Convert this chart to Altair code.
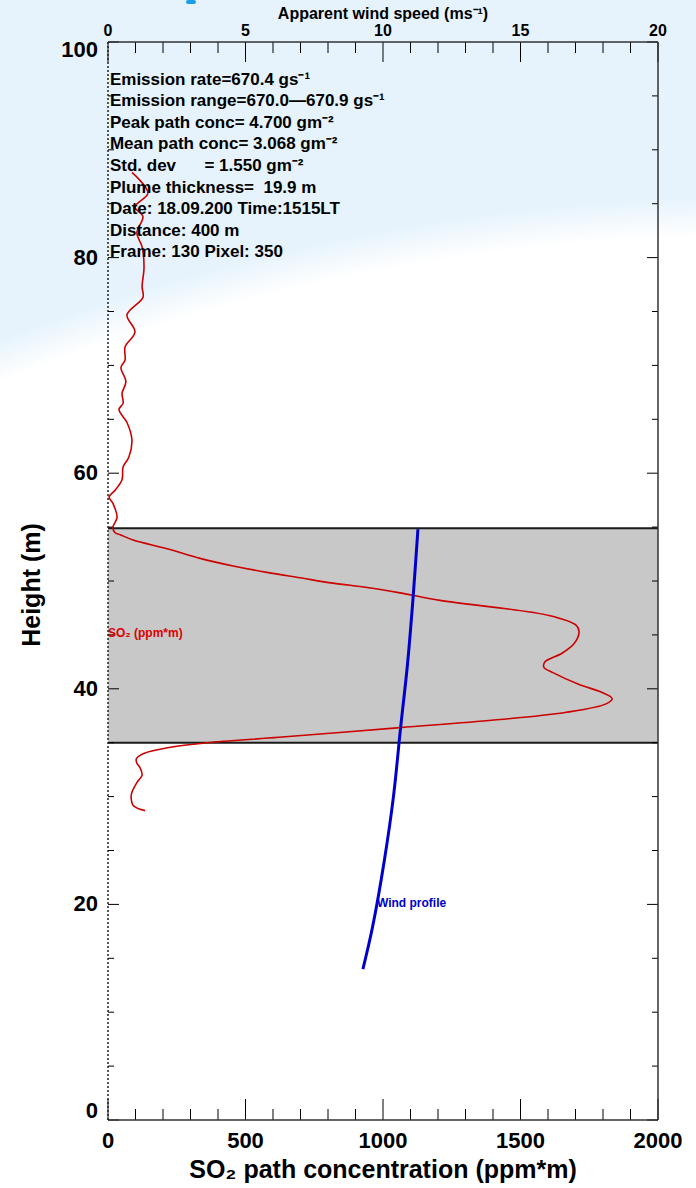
import altair as alt
import pandas as pd

# ---------------- data ----------------
so2_height = [87.9, 86.0, 84.7, 83.8, 82.3, 81.0, 79.1, 77.3, 76.3, 74.7,
              73.1, 71.7, 70.5, 69.8, 68.5, 67.4, 66.5, 65.9, 64.7, 63.1,
              61.5, 60.6, 59.4, 58.4, 57.8, 57.2, 55.9, 55.0, 54.5, 54.3,
              53.8, 53.0, 52.1, 51.4, 50.8, 50.3, 49.8, 49.4, 48.9, 48.2,
              46.8, 45.9, 45.3, 44.2, 43.3, 42.5, 42.0, 41.5, 40.4, 39.7,
              39.1, 38.6, 37.8, 37.1, 36.4, 35.5, 35.0, 34.6, 34.0, 33.5,
              33.1, 32.7, 32.0, 31.3, 30.4, 30.0, 29.2, 28.9, 28.7]
so2_conc = [87, 145, 98, 127, 105, 124, 131, 124, 127, 69,
            98, 62, 62, 47, 65, 51, 55, 40, 69, 87,
            76, 55, 51, 25, 4, 18, 33, 18, 25, 44,
            91, 215, 335, 455, 578, 698, 818, 942, 1062, 1207,
            1604, 1702, 1713, 1695, 1651, 1589, 1585, 1618, 1713, 1793,
            1833, 1811, 1662, 1404, 1062, 622, 360, 233, 130, 103,
            105, 116, 124, 105, 87, 84, 91, 109, 135]

wind_height = [14.0, 17.9, 24.1, 30.0, 36.4, 42.0, 48.0, 54.8]
wind_speed = [9.27, 9.62, 10.05, 10.38, 10.64, 10.88, 11.08, 11.27]

plume_bottom = 35.0
plume_top = 54.9

info_lines = [
    "Emission rate=670.4 gs\u207b\u00b9",
    "Emission range=670.0\u2014670.9 gs\u207b\u00b9",
    "Peak path conc= 4.700 gm\u207b\u00b2",
    "Mean path conc= 3.068 gm\u207b\u00b2",
    "Std. dev\u00a0\u00a0\u00a0\u00a0\u00a0\u00a0= 1.550 gm\u207b\u00b2",
    "Plume thickness=\u00a0\u00a019.9 m",
    "Date: 18.09.200 Time:1515LT",
    "Distance: 400 m",
    "Frame: 130 Pixel: 350",
]
info_heights = [96.5, 94.5, 92.5, 90.5, 88.5, 86.5, 84.5, 82.5, 80.5]

conc_major = [0, 500, 1000, 1500, 2000]
conc_minor = [100, 200, 300, 400, 600, 700, 800, 900, 1100, 1200, 1300, 1400,
              1600, 1700, 1800, 1900]
wind_major = [0, 5, 10, 15, 20]
height_major = [0, 20, 40, 60, 80, 100]
height_minor = [5, 10, 15, 25, 30, 35, 45, 50, 55, 65, 70, 75, 85, 90, 95]

x_title = "SO\u2082 path concentration (ppm*m)"
y_title = "Height (m)"
top_title = "Apparent wind speed (ms\u207b\u00b9)"

# ---------------- styling ----------------
FONT = "Liberation Sans"
W, H = 550, 1078
LIGHT = "#e6f3fc"
xs = alt.Scale(domain=[0, 2000], nice=False, zero=False)
ys = alt.Scale(domain=[0, 100], nice=False, zero=False)
ws = alt.Scale(domain=[0, 20], nice=False, zero=False)

one = pd.DataFrame({"k": [0]})

grad = alt.RadialGradient(
    gradient="radial", x1=0.838, y1=1.875, r1=0, x2=0.838, y2=1.875, r2=2.0,
    stops=[alt.GradientStop(offset=0, color="white"),
           alt.GradientStop(offset=0.838, color="white"),
           alt.GradientStop(offset=0.855, color=LIGHT),
           alt.GradientStop(offset=1, color=LIGHT)])

background = alt.Chart(one).mark_rect(fill=grad, strokeWidth=0).encode(
    x=alt.value(-108), x2=alt.value(W + 38), y=alt.value(-42), y2=alt.value(H + 68))
blue_dot = alt.Chart(one).mark_rect(color="#1a9ee8", cornerRadius=2).encode(
    x=alt.value(78), x2=alt.value(88), y=alt.value(-42), y2=alt.value(-38))

band_df = pd.DataFrame({"x0": [0], "x1": [2000], "y0": [plume_bottom], "y1": [plume_top]})
band = alt.Chart(band_df).mark_rect(color="#c8c8c8").encode(
    x=alt.X("x0:Q", scale=xs, axis=None), x2="x1",
    y=alt.Y("y0:Q", scale=ys, axis=None), y2="y1")

edge_df = pd.DataFrame({"x0": [0, 0], "x1": [2000, 2000], "y": [plume_bottom, plume_top]})
band_edges = alt.Chart(edge_df).mark_rule(color="#1a1a1a", strokeWidth=2).encode(
    x=alt.X("x0:Q", scale=xs, axis=None), x2="x1",
    y=alt.Y("y:Q", scale=ys, axis=None))


def xticks(vals, y0, y1):
    return alt.Chart(pd.DataFrame({"v": vals})).mark_rule(color="black", strokeWidth=1).encode(
        x=alt.X("v:Q", scale=xs, axis=None), y=alt.value(y0), y2=alt.value(y1))


def yticks(vals, x0, x1):
    return alt.Chart(pd.DataFrame({"v": vals})).mark_rule(color="black", strokeWidth=1).encode(
        y=alt.Y("v:Q", scale=ys, axis=None), x=alt.value(x0), x2=alt.value(x1))


ticks = [
    xticks(conc_major, H, H - 21), xticks(conc_minor, H, H - 11),
    xticks(conc_major, 0, 20), xticks(conc_minor, 0, 11),
    yticks(height_major, 0, 11), yticks(height_minor, 0, 6),
    yticks(height_major, W, W - 11), yticks(height_minor, W, W - 6),
]

frame_df = pd.DataFrame({"x0": [0, 2000, 0], "x1": [2000, 2000, 2000],
                         "y0": [100, 0, 0], "y1": [100, 100, 0]})
frame = alt.Chart(frame_df).mark_rule(color="#333333", strokeWidth=1.5).encode(
    x=alt.X("x0:Q", scale=xs, axis=None), x2="x1",
    y=alt.Y("y0:Q", scale=ys, axis=None), y2="y1")
left_df = pd.DataFrame({"x0": [0], "y0": [0], "y1": [100]})
left_edge = alt.Chart(left_df).mark_rule(color="#222222", strokeWidth=1.5, strokeDash=[2, 2]).encode(
    x=alt.X("x0:Q", scale=xs, axis=None),
    y=alt.Y("y0:Q", scale=ys, axis=None), y2="y1")

# ---- axis labels and titles (text marks, placed through the scales) ----
def txt(size, **kw):
    return dict(font=FONT, fontWeight="bold", fontSize=size, color="black", **kw)


xlab = alt.Chart(pd.DataFrame({"v": conc_major})).mark_text(
    **txt(22, align="center", baseline="middle")).encode(
    x=alt.X("v:Q", scale=xs, axis=None), y=alt.value(H + 21), text=alt.Text("v:Q", format="d"))

ylab_mid = alt.Chart(pd.DataFrame({"v": height_major[1:-1]})).mark_text(
    **txt(22, align="right", baseline="middle")).encode(
    y=alt.Y("v:Q", scale=ys, axis=None), x=alt.value(-10), text=alt.Text("v:Q", format="d"))
ylab_lo = alt.Chart(pd.DataFrame({"v": height_major[:1]})).mark_text(
    **txt(22, align="right", baseline="middle", dy=-9)).encode(
    y=alt.Y("v:Q", scale=ys, axis=None), x=alt.value(-10), text=alt.Text("v:Q", format="d"))
ylab_hi = alt.Chart(pd.DataFrame({"v": height_major[-1:]})).mark_text(
    **txt(22, align="right", baseline="middle", dy=8)).encode(
    y=alt.Y("v:Q", scale=ys, axis=None), x=alt.value(-10), text=alt.Text("v:Q", format="d"))

xtitle = alt.Chart(pd.DataFrame({"t": [x_title]})).mark_text(
    **txt(25, align="center", baseline="middle")).encode(
    x=alt.value(W / 2), y=alt.value(H + 50), text="t:N")
ytitle = alt.Chart(pd.DataFrame({"t": [y_title]})).mark_text(
    **txt(25, align="center", baseline="middle", angle=270)).encode(
    x=alt.value(-76), y=alt.value(H / 2 + 4), text="t:N")

so2_df = pd.DataFrame({"i": list(range(len(so2_conc))), "conc": so2_conc, "h": so2_height})
so2_line = alt.Chart(so2_df).mark_line(color="#cc0000", strokeWidth=1.6,
                                       interpolate="catmull-rom").encode(
    x=alt.X("conc:Q", scale=xs, axis=None),
    y=alt.Y("h:Q", scale=ys, axis=None),
    order="i:Q")

info_df = pd.DataFrame({"t": info_lines, "h": info_heights, "c": [7] * len(info_lines)})
info = alt.Chart(info_df).mark_text(**txt(17, align="left", baseline="middle")).encode(
    x=alt.X("c:Q", scale=xs, axis=None), y=alt.Y("h:Q", scale=ys, axis=None), text="t:N")

so2_lab_df = pd.DataFrame({"t": ["SO\u2082 (ppm*m)"], "c": [0], "h": [45.2]})
so2_lab = alt.Chart(so2_lab_df).mark_text(font=FONT, fontWeight="bold", fontSize=12, align="left",
                                          baseline="middle", color="#dd0000").encode(
    x=alt.X("c:Q", scale=xs, axis=None), y=alt.Y("h:Q", scale=ys, axis=None), text="t:N")

conc_layer = alt.layer(background, blue_dot, band, band_edges, *ticks, frame, left_edge,
                       so2_line, info, so2_lab, xlab, ylab_mid, ylab_lo, ylab_hi,
                       xtitle, ytitle)

wind_df = pd.DataFrame({"s": wind_speed, "h": wind_height})
wind_line = alt.Chart(wind_df).mark_line(color="#0000cc", strokeWidth=3,
                                         interpolate="catmull-rom").encode(
    x=alt.X("s:Q", scale=ws, axis=None),
    y=alt.Y("h:Q", scale=ys, axis=None),
    order="h:Q")
wind_lab_df = pd.DataFrame({"t": ["Wind profile"], "s": [9.78], "h": [20.1]})
wind_lab = alt.Chart(wind_lab_df).mark_text(font=FONT, fontWeight="bold", fontSize=12, align="left",
                                            baseline="middle", color="#0000cc").encode(
    x=alt.X("s:Q", scale=ws, axis=None), y=alt.Y("h:Q", scale=ys, axis=None), text="t:N")
toplab = alt.Chart(pd.DataFrame({"v": wind_major})).mark_text(
    **txt(16, align="center", baseline="middle")).encode(
    x=alt.X("v:Q", scale=ws, axis=None), y=alt.value(-11), text=alt.Text("v:Q", format="d"))
toptitle = alt.Chart(pd.DataFrame({"t": [top_title]})).mark_text(
    **txt(16, align="center", baseline="middle")).encode(
    x=alt.value(W / 2), y=alt.value(-28), text="t:N")
wind_layer = alt.layer(wind_line, wind_lab, toplab, toptitle)

chart = alt.layer(conc_layer, wind_layer).resolve_scale(x="independent").properties(
    width=W, height=H, padding=0, background="white"
).configure_view(stroke=None)

chart.save("out.html", embed_options={"renderer": "svg", "actions": False})
